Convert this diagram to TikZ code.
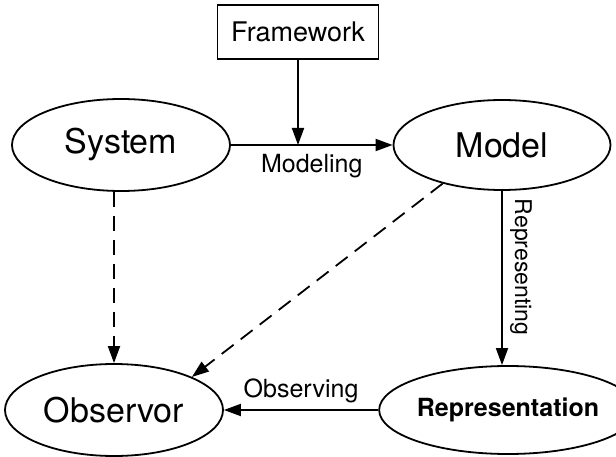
\documentclass[tikz,border=0pt]{standalone}
\usepackage{fontspec}
\setmainfont{TeX Gyre Heros}
\usetikzlibrary{shapes.geometric,arrows.meta,calc}
\begin{document}
\begin{tikzpicture}[x=1pt,y=1pt,
  line width=1.8pt,
  ell/.style={draw, ellipse, inner sep=0pt, font=\fontsize{34}{36}\selectfont},
  box/.style={draw, rectangle, inner sep=0pt, font=\fontsize{27}{29}\selectfont},
  conn/.style={-{Triangle[length=17pt,width=12pt]}},
  dconn/.style={conn, dash pattern=on 15pt off 9pt},
  elabel/.style={font=\fontsize{25}{27}\selectfont, inner sep=0pt}]
\useasboundingbox (0,0) rectangle (616,456);
\node[box, minimum width=161pt, minimum height=54pt] (framework) at (298,424) {Framework};
\node[ell, minimum width=218pt, minimum height=92pt] (system) at (121,311) {System};
\node[ell, minimum width=217pt, minimum height=90pt] (model) at (502,311) {Model};
\node[ell, minimum width=218pt, minimum height=92pt] (observor) at (114,46) {Observor};
\node[ell, minimum width=213pt, minimum height=88pt, font=\fontsize{25}{27}\selectfont\bfseries] (representation) at (508,46) {Representation};
\coordinate (fj) at (framework.south |- system.east);
\draw[conn] (system.east) -- (model.west);
\draw[conn] (framework.south) -- (fj);
\node[elabel, anchor=base] (lmodeling) at ($(system.east)!0.5!(model.west)+(0,-28)$) {Modeling};
\draw[conn] (model.south) -- (model.south |- representation.north);
\node[elabel, rotate=-90, font=\fontsize{23}{25}\selectfont] (lrepresenting) at (521,189) {Representing};
\draw[conn] (representation.west) -- (observor.east);
\node[elabel, anchor=base] (lobserving) at ($(representation.west)!0.5!(observor.east)+(0,13)$) {Observing};
\draw[dconn] (observor.north |- system.south) -- (observor.north);
\draw[dconn] (model.213.7) -- (observor.23.5);
\end{tikzpicture}
\end{document}
